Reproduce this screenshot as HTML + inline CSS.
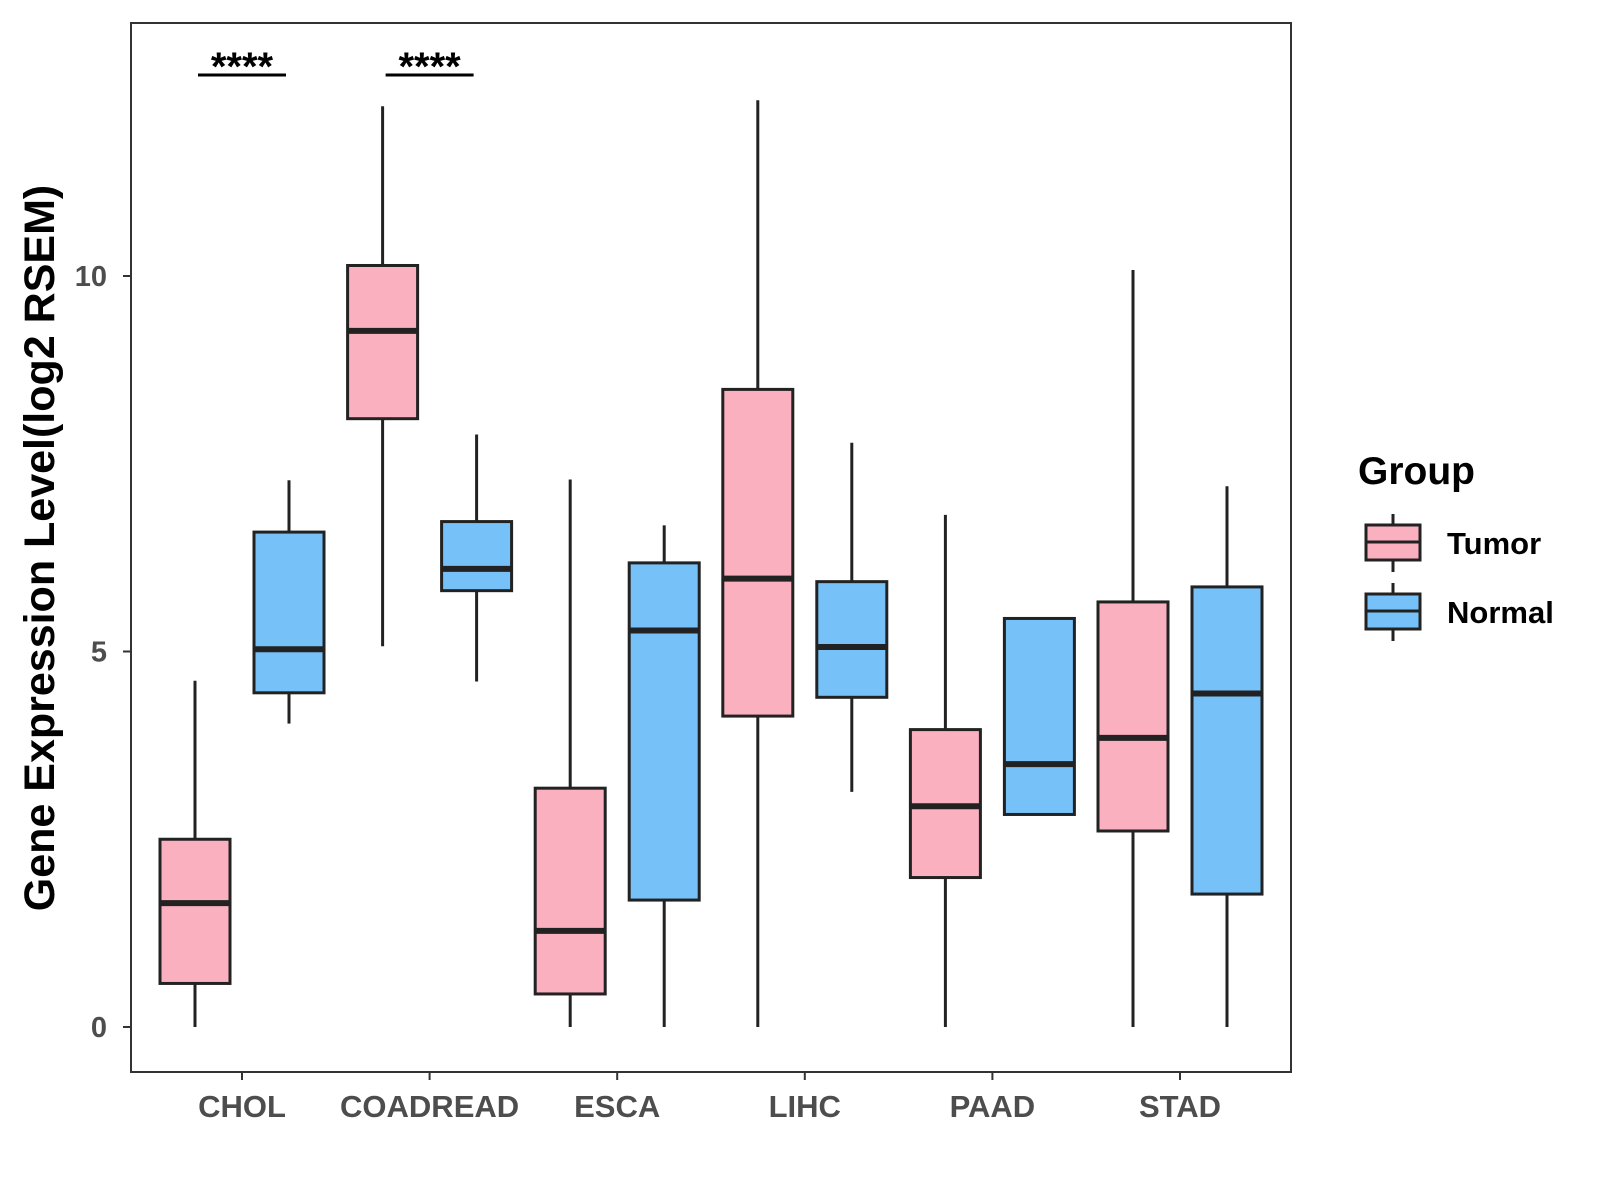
<!DOCTYPE html>
<html><head><meta charset="utf-8"><style>
html,body{margin:0;padding:0;background:#fff;}
svg{display:block;font-family:"Liberation Sans",Arial,sans-serif;}
</style></head><body>
<svg id="chart" width="1600" height="1200" viewBox="0 0 1600 1200" xmlns="http://www.w3.org/2000/svg">
<rect x="0" y="0" width="1600" height="1200" fill="#fff"/>
<rect x="131" y="23" width="1160" height="1049" fill="none" stroke="#333" stroke-width="2"/>
<g id="marks"></g>
<text transform="translate(54,548) rotate(-90)" text-anchor="middle" font-size="43" font-weight="bold" fill="#000">Gene Expression Level(log2 RSEM)</text>
<g>
<text x="1358" y="484" font-size="39" font-weight="bold" fill="#000">Group</text>
<g>
<line x1="1393" y1="514" x2="1393" y2="572" stroke="#222" stroke-width="3"/>
<rect x="1366" y="525" width="54" height="35" fill="#FBB0C0" stroke="#222" stroke-width="3"/>
<line x1="1366" y1="542" x2="1420" y2="542" stroke="#222" stroke-width="3"/>
<text x="1447" y="554" font-size="31" font-weight="bold" fill="#000">Tumor</text>
</g>
<g>
<line x1="1393" y1="583" x2="1393" y2="641" stroke="#222" stroke-width="3"/>
<rect x="1366" y="594" width="54" height="35" fill="#76C1F8" stroke="#222" stroke-width="3"/>
<line x1="1366" y1="611" x2="1420" y2="611" stroke="#222" stroke-width="3"/>
<text x="1447" y="623" font-size="31" font-weight="bold" fill="#000">Normal</text>
</g>
</g>
</svg>
<script>
const categories = ["CHOL","COADREAD","ESCA","LIHC","PAAD","STAD"];
const tumorStats = [
 [0,0.58,1.65,2.5,4.61],
 [5.07,8.1,9.27,10.14,12.26],
 [0,0.44,1.28,3.18,7.29],
 [0,4.14,5.97,8.49,12.34],
 [0,1.99,2.94,3.96,6.82],
 [0,2.61,3.85,5.66,10.08]
];
const normalStats = [
 [4.04,4.45,5.03,6.59,7.28],
 [4.6,5.81,6.1,6.73,7.89],
 [0,1.69,5.28,6.18,6.68],
 [3.13,4.39,5.06,5.93,7.78],
 [2.83,2.83,3.5,5.44,5.44],
 [0,1.77,4.44,5.86,7.2]
];
const yTicks = [0,5,10];
const sigCategories = ["CHOL","COADREAD"];
const sigLabels = ["****","****"];

const NS="http://www.w3.org/2000/svg";
const g=document.getElementById('marks');
function y(v){return 1027 - v*75.1;}
function x(i){return 242 + i*187.6;}
function mk(tag,attrs,parent){const e=document.createElementNS(NS,tag);for(const k in attrs)e.setAttribute(k,attrs[k]);(parent||g).appendChild(e);return e;}

yTicks.forEach(t=>{
 const tk=mk('line',{x1:123,x2:131,y1:y(t),y2:y(t),stroke:'#333','stroke-width':2});
 
 
 const tl=mk('text',{x:107,y:y(t)+10,'text-anchor':'end','font-size':29,'font-weight':'bold',fill:'#4d4d4d'});
 tl.textContent=t;
 
 
});
categories.forEach((c,i)=>{
 const tk=mk('line',{x1:x(i),x2:x(i),y1:1072,y2:1080,stroke:'#333','stroke-width':2});
 
 
 const tl=mk('text',{x:x(i),y:1117,'text-anchor':'middle','font-size':31,'font-weight':'bold',fill:'#4d4d4d'});
 tl.textContent=c;
 
 
});
function box(cx,s,fill,name){
 const bg=mk('g',{});
 
 
 const w=35;
 mk('line',{x1:cx,x2:cx,y1:y(s[0]),y2:y(s[1]),stroke:'#222','stroke-width':3},bg);
 mk('line',{x1:cx,x2:cx,y1:y(s[3]),y2:y(s[4]),stroke:'#222','stroke-width':3},bg);
 mk('rect',{x:cx-w,y:y(s[3]),width:2*w,height:y(s[1])-y(s[3]),fill:fill,stroke:'#222','stroke-width':3},bg);
 mk('line',{x1:cx-w,x2:cx+w,y1:y(s[2]),y2:y(s[2]),stroke:'#222','stroke-width':6},bg);
}
categories.forEach((c,i)=>{
 box(x(i)-47,tumorStats[i],'#FBB0C0','box-tumor-'+c.toLowerCase());
 box(x(i)+47,normalStats[i],'#76C1F8','box-normal-'+c.toLowerCase());
});
sigCategories.forEach((c,k)=>{
 const i=categories.indexOf(c);
 const l=mk('line',{x1:x(i)-44,x2:x(i)+44,y1:75,y2:75,stroke:'#000','stroke-width':3});
 
 
 const t=mk('text',{x:x(i),y:80,'text-anchor':'middle','font-size':40,'font-weight':'bold',fill:'#000'});
 t.textContent=sigLabels[k];
 
 
});
</script>
</body></html>
